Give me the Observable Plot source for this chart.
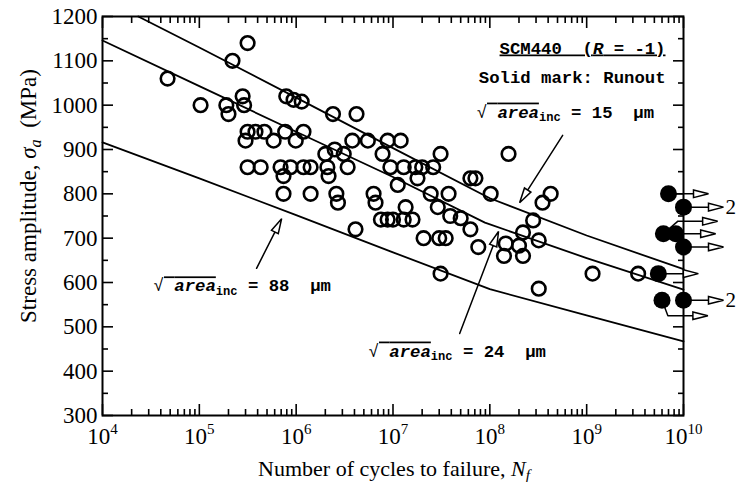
<!DOCTYPE html>
<html>
<head>
<meta charset="utf-8">
<script src="https://cdn.jsdelivr.net/npm/d3@7"></script>
<script src="https://cdn.jsdelivr.net/npm/@observablehq/plot@0.6"></script>
<style>
  html, body { margin: 0; padding: 0; background: #fff; }
  #chart svg { display: block; }
</style>
</head>
<body>
<div id="chart"></div>
<script>
// ---- data (cycles to failure N, stress amplitude MPa) ----
const failures = [
  [4.7e4,1060],[1.03e5,1000],[1.9e5,1000],[2.0e5,980],[2.2e5,1100],[2.8e5,1020],[2.9e5,1000],
  [3.15e5,1140],[3.0e5,920],[3.15e5,940],[3.15e5,860],[3.8e5,940],[4.3e5,860],[4.7e5,940],
  [5.85e5,920],[6.9e5,860],[7.4e5,840],[7.4e5,800],[7.7e5,940],[7.9e5,1020],[8.75e5,860],
  [9.4e5,1012],[9.9e5,920],[1.14e6,1008],[1.19e6,940],[1.19e6,860],[1.41e6,860],[1.41e6,800],
  [2.0e6,890],[2.1e6,860],[2.16e6,840],[2.4e6,980],[2.5e6,900],[2.6e6,800],[2.7e6,780],
  [3.1e6,890],[3.4e6,860],[3.8e6,920],[4.1e6,720],[4.2e6,980],[5.5e6,920],[6.3e6,800],
  [6.6e6,780],[7.5e6,742],[7.8e6,890],[8.8e6,920],[8.8e6,742],[9.4e6,860],[1.0e7,742],
  [1.12e7,820],[1.2e7,920],[1.29e7,860],[1.29e7,742],[1.35e7,770],[1.59e7,742],[1.7e7,860],
  [1.79e7,835],[2.0e7,860],[2.07e7,700],[2.45e7,800],[2.6e7,860],[2.9e7,770],[3.0e7,700],
  [3.1e7,890],[3.1e7,620],[3.5e7,700],[3.75e7,800],[3.9e7,750],[5.0e7,745],[6.3e7,835],
  [7.1e7,835],[6.3e7,720],[7.6e7,680],[1.02e8,800],[1.4e8,660],[1.46e8,688],[1.56e8,890],
  [2.0e8,683],[2.2e8,713],[2.2e8,660],[2.8e8,740],[3.2e8,695],[3.2e8,586],[3.5e8,780],
  [4.25e8,800],[1.15e9,620],[3.4e9,620]
];
const runouts = [[7.0e9,800],[1e10,770],[6.2e9,710],[8.3e9,710],[1e10,680],[5.5e9,620],[6.0e9,560],[1e10,560]];
const runoutArrows = [[7.0e9,800],[1e10,770],[8.7e9,738],[8.3e9,710],[1e10,680],[5.5e9,620],[1e10,560],[6.9e9,525]];
const runoutLeaders = [[6.2e9,710,8.7e9,738],[6.0e9,560,6.9e9,525]];
const runoutCounts = [[1e10,770,"2"],[1e10,560,"2"]];

const curve15 = [[2.34e4,1200],[1e5,1130],[1e6,1017],[1e7,903],[1e8,790],[1e9,706],[1e10,630]];
const curve24 = [[1e4,1146],[1e5,1043],[1e6,940],[1e7,838],[8.9e7,735],[1e9,655],[1e10,584]];
const curve88 = [[1e4,916],[1e5,835],[1e6,752],[1e7,668],[1e8,585],[1e9,526],[1e10,467]];

const labelArrows = [
  [5.65e8,932,2.03e8,780],   // 15 um
  [3.9e5,632,7.08e5,744],    // 88 um
  [4.88e7,485,1.23e8,715]    // 24 um
];

const xMajor = [1e4,1e5,1e6,1e7,1e8,1e9,1e10];
const xMinor = xMajor.slice(0,-1).flatMap(p => [2,3,4,5,6,7,8,9].map(m => m*p));
const yMajor = [300,400,500,600,700,800,900,1000,1100,1200];
const yMinor = [350,450,550,650,750,850,950,1050,1150];

const MONO = "Liberation Mono";
const SERIF = "Liberation Serif";

const hollowArrow = {
  draw(ctx, l) {
    const h = 15, w = 3.8;
    ctx.moveTo(0, 0); ctx.lineTo(0, -l + h);
    ctx.moveTo(0, -l); ctx.lineTo(-w, -l + h); ctx.lineTo(w, -l + h); ctx.closePath();
  }
};

const layout = {
  width: 738, height: 482,
  marginLeft: 102, marginRight: 55, marginTop: 16, marginBottom: 67,
  x: {type: "log", domain: [1e4, 1e10], axis: null},
  y: {domain: [300, 1200], axis: null}
};

// scales of the same layout, used to orient the annotation arrows in screen space
const probe = Plot.plot({...layout, marks: [Plot.frame()]});
const sx = probe.scale("x"), sy = probe.scale("y");
const arrowLen = d => Math.hypot(sx.apply(d[2]) - sx.apply(d[0]), sy.apply(d[3]) - sy.apply(d[1]));
const arrowRot = d => Math.atan2(sx.apply(d[2]) - sx.apply(d[0]), -(sy.apply(d[3]) - sy.apply(d[1]))) * 180 / Math.PI;

const ax = {stroke: "black", strokeWidth: 1.6};

const svg = Plot.plot({
  ...layout,
  style: {fontFamily: SERIF, fontSize: "23px", color: "black", background: "white"},
  marks: [
    Plot.line(curve15, {x: d => d[0], y: d => d[1], stroke: "black", strokeWidth: 1.8}),
    Plot.line(curve24, {x: d => d[0], y: d => d[1], stroke: "black", strokeWidth: 1.8}),
    Plot.line(curve88, {x: d => d[0], y: d => d[1], stroke: "black", strokeWidth: 1.8}),
    Plot.frame({stroke: "black", strokeWidth: 2}),
    Plot.axisX({anchor: "bottom", ticks: xMajor, tickSize: -11, tickPadding: 23, fontSize: 23,
      tickFormat: d => `10{sup:${Math.round(Math.log10(d))}}`, label: null, ...ax}),
    Plot.axisX({anchor: "top", ticks: xMajor, tickSize: -11, fill: "none", ...ax}),
    Plot.axisX({anchor: "bottom", ticks: xMinor, tickSize: -6, fill: "none", ...ax}),
    Plot.axisX({anchor: "top", ticks: xMinor, tickSize: -6, fill: "none", ...ax}),
    Plot.axisY({anchor: "left", ticks: yMajor, tickSize: -11, tickPadding: 16, fontSize: 23,
      tickFormat: d => String(d), label: null, ...ax}),
    Plot.axisY({anchor: "right", ticks: yMajor, tickSize: -11, fill: "none", ...ax}),
    Plot.axisY({anchor: "left", ticks: yMinor, tickSize: -6, fill: "none", ...ax}),
    Plot.axisY({anchor: "right", ticks: yMinor, tickSize: -6, fill: "none", ...ax}),
    Plot.dot(failures, {x: d => d[0], y: d => d[1], r: 6.8, stroke: "black", strokeWidth: 2.6, fill: "none"}),
    Plot.link(runoutLeaders, {x1: d => d[0], y1: d => d[1], x2: d => d[2], y2: d => d[3], stroke: "black", strokeWidth: 1.5}),
    Plot.vector(runoutArrows, {x: d => d[0], y: d => d[1], length: 40, rotate: 90, anchor: "start",
      shape: hollowArrow, stroke: "black", fill: "white", strokeWidth: 1.5, strokeLinejoin: "miter"}),
    Plot.dot(runouts, {x: d => d[0], y: d => d[1], r: 8.5, fill: "black", stroke: "none"}),
    Plot.text(runoutCounts, {x: d => d[0], y: d => d[1], text: d => d[2], dx: 42, textAnchor: "start",
      fontFamily: SERIF, fontSize: 21}),
    ...labelArrows.map(d => Plot.vector([d], {x: d => d[0], y: d => d[1], length: arrowLen(d), rotate: arrowRot(d),
      anchor: "start", shape: hollowArrow, stroke: "black", fill: "white", strokeWidth: 1.5, strokeLinejoin: "miter"})),
    // annotations
    Plot.text(["{u:SCM440  (}{ui:R}{u: = -1)}"], {frameAnchor: "top-right", dx: -18, dy: 37,
      textAnchor: "end", lineAnchor: "bottom", fontFamily: MONO, fontWeight: "bold", fontSize: 17.3}),
    Plot.text(["Solid mark: Runout"], {frameAnchor: "top-right", dx: -18, dy: 66,
      textAnchor: "end", lineAnchor: "bottom", fontFamily: MONO, fontWeight: "bold", fontSize: 17.3}),
    Plot.text(["{n:√}{o: }{oi:area}{sub:inc} = 15  μm"], {x: 7.31e7, y: 972, textAnchor: "start",
      lineAnchor: "bottom", fontFamily: MONO, fontWeight: "bold", fontSize: 17.3}),
    Plot.text(["{n:√}{o: }{oi:area}{sub:inc} = 88  μm"], {x: 3.37e4, y: 580, textAnchor: "start",
      lineAnchor: "bottom", fontFamily: MONO, fontWeight: "bold", fontSize: 17.3}),
    Plot.text(["{n:√}{o: }{oi:area}{sub:inc} = 24  μm"], {x: 5.6e6, y: 433, textAnchor: "start",
      lineAnchor: "bottom", fontFamily: MONO, fontWeight: "bold", fontSize: 17.3}),
    // axis titles
    Plot.text(["Number of cycles to failure, {i:N}{subi:f}"], {frameAnchor: "bottom", dx: 1, dy: 60,
      textAnchor: "middle", lineAnchor: "bottom", fontFamily: SERIF, fontSize: 22}),
    Plot.text(["Stress amplitude, {i:σ}{subi:a}  (MPa)"], {frameAnchor: "left", dx: -67, dy: -20,
      rotate: -90, textAnchor: "middle", lineAnchor: "bottom", fontFamily: SERIF, fontSize: 23})
  ]
});

document.getElementById("chart").append(svg);

function richify(root) {
  const NS = "http://www.w3.org/2000/svg";
  const kinds = {
    n: {weight: "normal"}, i: {italic: 1}, o: {over: 1}, oi: {italic: 1, over: 1},
    u: {under: 1}, ui: {italic: 1, under: 1}, sub: {sub: 1}, subi: {sub: 1, italic: 1}, sup: {sup: 1}
  };
  root.querySelectorAll("text").forEach(el => {
    const raw = el.textContent;
    if (!raw.includes("{")) return;
    const fs = parseFloat(getComputedStyle(el).fontSize);
    while (el.firstChild) el.removeChild(el.firstChild);
    el.style.whiteSpace = "pre";
    const re = /\{(\w+):([^}]*)\}|([^{]+)/g;
    let m, shift = 0;
    while ((m = re.exec(raw))) {
      const k = m[1] ? (kinds[m[1]] || {}) : {};
      const ts = document.createElementNS(NS, "tspan");
      ts.textContent = m[1] ? m[2] : m[3];
      let target = 0;
      if (k.sub) { target = 0.22 * fs; ts.setAttribute("font-size", (0.7 * fs).toFixed(1)); }
      if (k.sup) { target = -0.42 * fs; ts.setAttribute("font-size", (0.65 * fs).toFixed(1)); }
      if (k.italic) ts.setAttribute("font-style", "italic");
      if (k.weight) ts.setAttribute("font-weight", k.weight);
      const deco = [k.over && "overline", k.under && "underline"].filter(Boolean).join(" ");
      if (deco) ts.style.textDecoration = deco;
      ts.setAttribute("dy", (target - shift).toFixed(2));
      shift = target;
      el.appendChild(ts);
    }
  });
}
richify(svg);
</script>
</body>
</html>
